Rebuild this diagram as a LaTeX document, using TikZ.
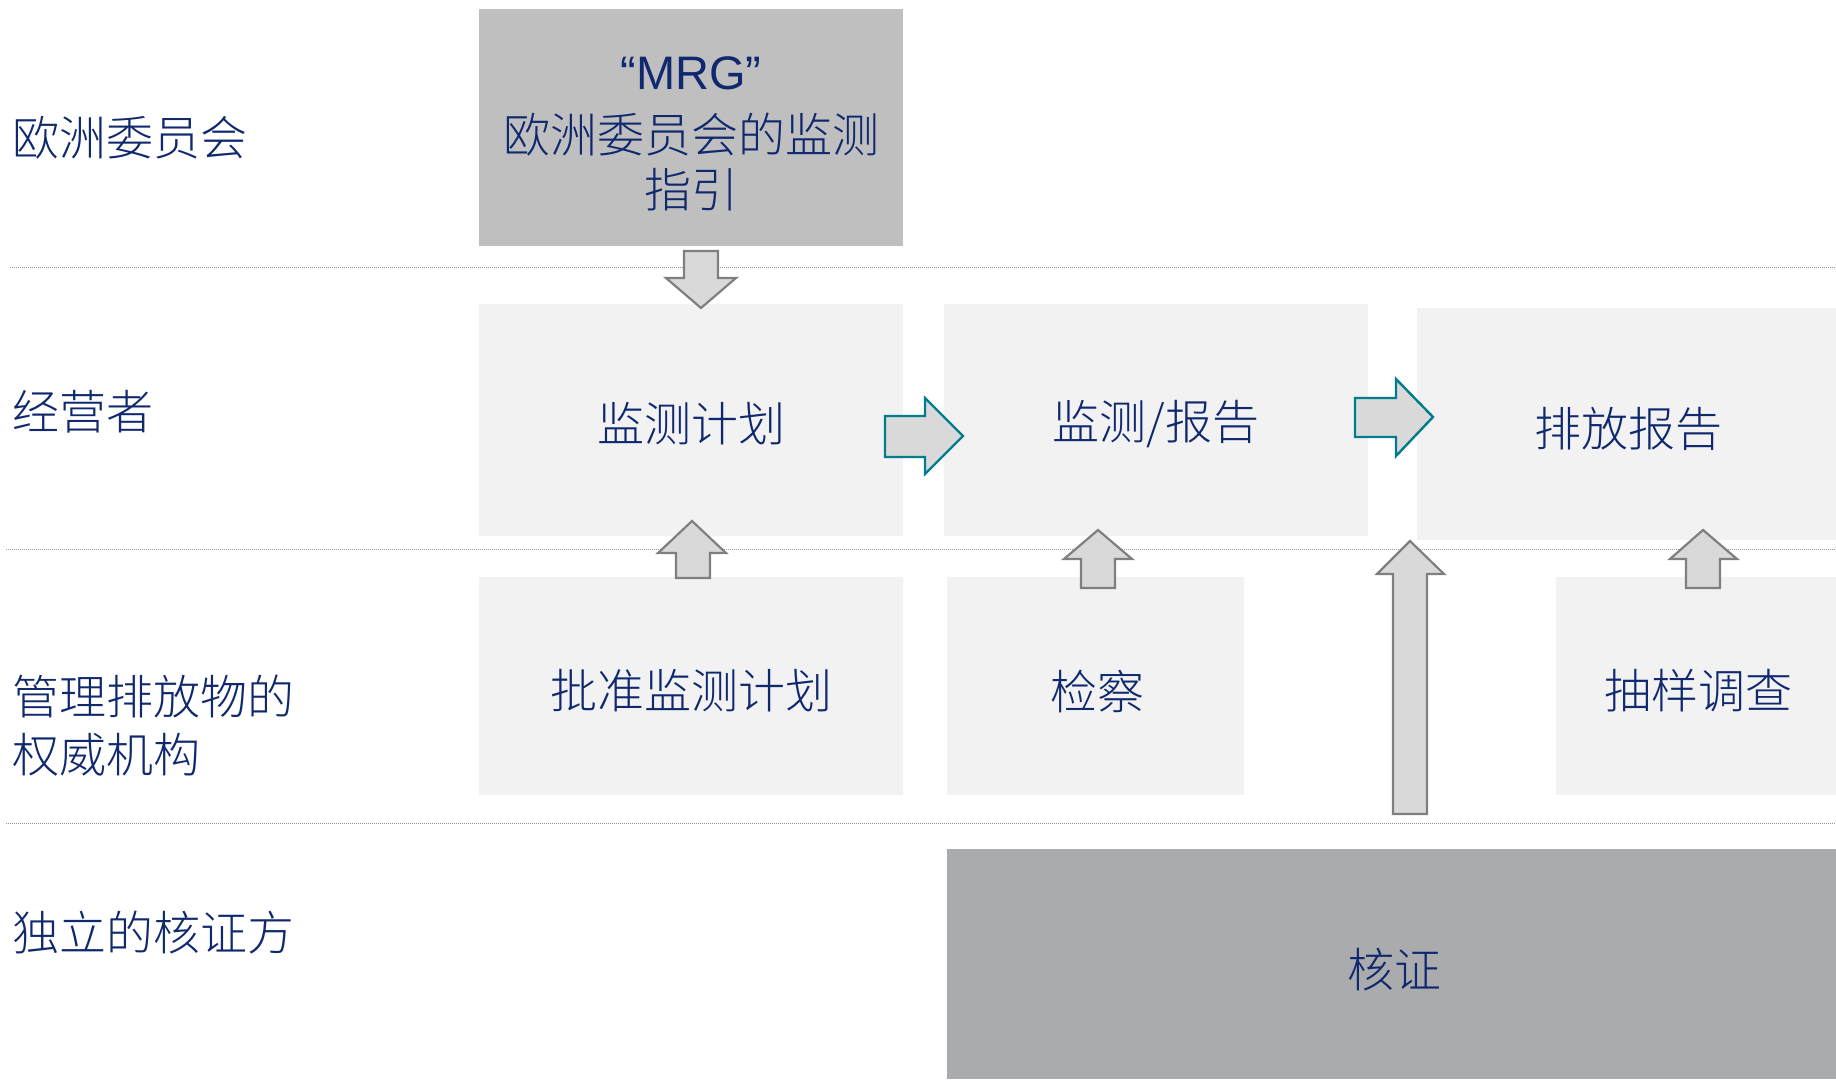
\documentclass[tikz,border=0pt]{standalone}
\usepackage{fontspec}
\setmainfont{Noto Sans CJK SC}[UprightFont=* Light]
\newfontfamily\latinfont{Liberation Sans}
\definecolor{navy}{RGB}{15,40,110}
\definecolor{boxlight}{RGB}{242,242,242}
\definecolor{boxmid}{RGB}{191,191,191}
\definecolor{boxdark}{RGB}{170,171,173}
\definecolor{arrowfill}{RGB}{217,217,217}
\definecolor{arrowgray}{RGB}{127,127,127}
\definecolor{teal}{RGB}{0,125,140}
\definecolor{sepline}{RGB}{150,150,150}
\begin{document}
\begin{tikzpicture}[x=1pt,y=-1pt,
  txt/.style={text=navy,font=\fontsize{47}{55}\selectfont,inner sep=0pt},
  lbl/.style={txt,anchor=west,align=left,font=\fontsize{47}{58}\selectfont},
  garrow/.style={fill=arrowfill,draw=arrowgray,line width=2.2pt,line join=miter},
  barrow/.style={fill=arrowfill,draw=teal,line width=2.4pt,line join=miter},
  sep/.style={draw=sepline,line width=1pt,dash pattern=on 1pt off 1pt}]
\useasboundingbox (0,0) rectangle (1836,1079);
% separators
\coordinate (s1a) at (10,267); \coordinate (s1b) at (1836,267);
\coordinate (s2a) at (6,549);  \coordinate (s2b) at (1836,549);
\coordinate (s3a) at (6,823);  \coordinate (s3b) at (1836,823);
\draw[sep] (s1a) -- (s1b);
\draw[sep] (s2a) -- (s2b);
\draw[sep] (s3a) -- (s3b);
% row labels
\node[lbl] (l1) at (12,138) {欧洲委员会};
\node[lbl] (l2) at (12,412) {经营者};
\node[lbl] (l3) at (12,726) {管理排放物的\\权威机构};
\node[lbl] (l4) at (12,933) {独立的核证方};
% panels
\path[fill=boxmid] (479,9) rectangle (903,246);
\node[txt,align=center] (mrg) at (691,134) {{\latinfont “MRG”}\\[8pt]欧洲委员会的监测\\指引};
\path[fill=boxlight] (479,304) rectangle (903,536);
\node[txt] (mp) at (691,424) {监测计划};
\path[fill=boxlight] (944,304) rectangle (1368,536);
\node[txt] (mr) at (1156,424) {监测/报告};
\path[fill=boxlight] (1417,308) rectangle (1836,540);
\node[txt] (er) at (1628,429) {排放报告};
\path[fill=boxlight] (479,577) rectangle (903,795);
\node[txt] (ap) at (691,691) {批准监测计划};
\path[fill=boxlight] (947,577) rectangle (1244,795);
\node[txt] (insp) at (1097,691) {检察};
\path[fill=boxlight] (1556,577) rectangle (1836,795);
\node[txt] (samp) at (1698,691) {抽样调查};
\path[fill=boxdark] (947,849) rectangle (1836,1079);
\node[txt] (ver) at (1394,970) {核证};
% block arrows
\draw[garrow] (684,251) -- (718,251) -- (718,278) -- (736,278) -- (701,308) -- (666,278) -- (684,278) -- cycle;
\draw[garrow] (676,578) -- (676,553) -- (658,553) -- (692,521) -- (726,553) -- (710,553) -- (710,578) -- cycle;
\draw[garrow] (1081,588) -- (1081,559) -- (1064,559) -- (1098,530) -- (1132,559) -- (1115,559) -- (1115,588) -- cycle;
\draw[garrow] (1393,814) -- (1393,574) -- (1377,574) -- (1410,541) -- (1444,574) -- (1427,574) -- (1427,814) -- cycle;
\draw[garrow] (1686,588) -- (1686,559) -- (1670,559) -- (1703,530) -- (1737,559) -- (1720,559) -- (1720,588) -- cycle;
\draw[barrow] (885,416) -- (925,416) -- (925,398) -- (963,436) -- (925,474) -- (925,457) -- (885,457) -- cycle;
\draw[barrow] (1355,398) -- (1396,398) -- (1396,379) -- (1433,417) -- (1396,456) -- (1396,437) -- (1355,437) -- cycle;
\end{tikzpicture}
\end{document}
